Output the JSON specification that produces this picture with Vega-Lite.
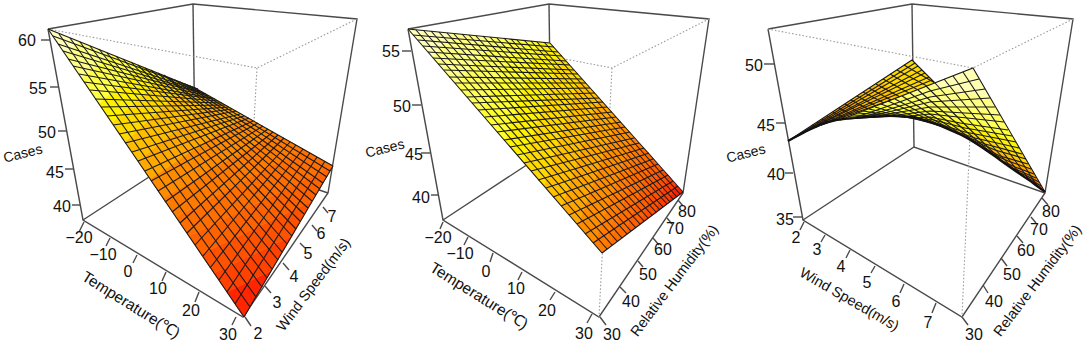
{"$schema":"https://vega.github.io/schema/vega-lite/v6.json","width":1084,"height":346,"autosize":{"type":"fit","contains":"padding"},"padding":0,"background":"white","config":{"view":{"stroke":null}},
"encoding":{"x":{"field":"x","type":"quantitative","scale":{"domain":[0,1084]},"axis":null},"y":{"field":"y","type":"quantitative","scale":{"domain":[346,0]},"axis":null}},
"resolve":{"scale":{"fill":"independent","stroke":"independent"}},
"layer":[
{"data":{"values":[
{"k":1,"x":[48,193,357,328,243,83,48],"y":[29,4,19,193,317,220,29]},{"k":2,"x":[193,195],"y":[4,147]},{"k":3,"x":[83,195,328],"y":[220,147,193]},
{"k":4,"x":[408,549,709,683,599,443,408],"y":[29,4,19,193,317,220,29]},{"k":5,"x":[549,551],"y":[4,149]},{"k":6,"x":[443,551,683],"y":[220,149,193]},
{"k":7,"x":[768,912,1073,1045,962,803,768],"y":[29,4,19,193,317,220,29]},{"k":8,"x":[912,914],"y":[4,147]},{"k":9,"x":[803,914,1045],"y":[220,147,193]},
{"k":10,"x":[41,50],"y":[40,40]},{"k":11,"x":[50,59],"y":[87,87]},{"k":12,"x":[58,67],"y":[131,131]},{"k":13,"x":[65,74],"y":[169,169]},{"k":14,"x":[72,80],"y":[205,205]},
{"k":15,"x":[84,79],"y":[222,232]},{"k":16,"x":[110,106],"y":[238,246]},{"k":17,"x":[137,133],"y":[255,263]},{"k":18,"x":[166,162],"y":[272,281]},{"k":19,"x":[199,195],"y":[292,302]},{"k":20,"x":[236,232],"y":[317,325]},
{"k":21,"x":[245,251],"y":[317,326]},{"k":22,"x":[265,271],"y":[286,293]},{"k":23,"x":[283,289],"y":[263,270]},{"k":24,"x":[300,305],"y":[243,248]},{"k":25,"x":[312,317],"y":[225,231]},{"k":26,"x":[323,328],"y":[207,213]},
{"k":27,"x":[402,411],"y":[51,51]},{"k":28,"x":[412,421],"y":[105,105]},{"k":29,"x":[421,430],"y":[153,153]},{"k":30,"x":[431,438],"y":[195,195]},
{"k":31,"x":[443,440],"y":[222,229]},{"k":32,"x":[468,464],"y":[237,245]},{"k":33,"x":[493,490],"y":[253,262]},{"k":34,"x":[522,518],"y":[272,280]},{"k":35,"x":[555,550],"y":[292,300]},{"k":36,"x":[592,587],"y":[314,323]},
{"k":37,"x":[600,606],"y":[317,325]},{"k":38,"x":[620,626],"y":[287,293]},{"k":39,"x":[638,643],"y":[261,267]},{"k":40,"x":[653,659],"y":[238,245]},{"k":41,"x":[667,672],"y":[218,224]},{"k":42,"x":[678,683],"y":[200,206]},
{"k":43,"x":[764,774],"y":[64,64]},{"k":44,"x":[776,785],"y":[123,123]},{"k":45,"x":[785,793],"y":[173,173]},{"k":46,"x":[793,802],"y":[217,217]},
{"k":47,"x":[804,800],"y":[222,230]},{"k":48,"x":[825,821],"y":[235,242]},{"k":49,"x":[850,846],"y":[250,258]},{"k":50,"x":[875,871],"y":[266,273]},{"k":51,"x":[904,900],"y":[284,293]},{"k":52,"x":[936,932],"y":[303,313]},
{"k":53,"x":[962,968],"y":[317,325]},{"k":54,"x":[983,988],"y":[285,293]},{"k":55,"x":[1001,1007],"y":[258,266]},{"k":56,"x":[1017,1023],"y":[236,243]},{"k":57,"x":[1031,1036],"y":[217,223]},{"k":58,"x":[1042,1048],"y":[198,205]}
]},"transform":[{"flatten":["x","y"]}],"mark":{"type":"line","order":false,"stroke":"#4a4a4a","strokeWidth":1.4},"encoding":{"detail":{"field":"k"}}},
{"data":{"values":[
{"k":1,"x":[48,257,357],"y":[29,68,19]},{"k":2,"x":[257,243],"y":[68,317]},
{"k":3,"x":[408,612,709],"y":[29,68,19]},{"k":4,"x":[612,599],"y":[68,317]},
{"k":5,"x":[768,973,1073],"y":[29,68,19]},{"k":6,"x":[973,962],"y":[68,317]}
]},"transform":[{"flatten":["x","y"]}],"mark":{"type":"line","order":false,"stroke":"#999999","strokeWidth":1.1,"strokeDash":[1.5,2]},"encoding":{"detail":{"field":"k"}}},
{"data":{"values":[
{"z":60,"x":[48,65,79],"y":[29,54,41]},{"z":58,"x":[65,82,110,79],"y":[54,79,54,41]},{"z":56,"x":[82,99,141,110],"y":[79,104,66,54]},{"z":54.2,"x":[99,112,164,141],"y":[104,123,76,66]},{"z":52.8,"x":[112,125,187,164],"y":[123,142,85,76]},{"z":51.2,"x":[125,138,215,195,187],"y":[142,161,99,88,85]},{"z":49.8,"x":[138,150,244,215],"y":[161,179,116,99]},{"z":48.2,"x":[150,163,274,244],"y":[179,198,133,116]},{"z":46.8,"x":[163,176,303,274],"y":[198,217,149,133]},{"z":45.2,"x":[176,189,333,303],"y":[217,236,166,149]},{"z":43.8,"x":[189,201,312,333],"y":[236,254,201,166]},{"z":42.2,"x":[201,214,292,312],"y":[254,273,236,201]},{"z":40.8,"x":[214,227,271,292],"y":[273,292,271,236]},{"z":39,"x":[227,244,271],"y":[292,317,271]}
]},"transform":[{"flatten":["x","y"]}],"mark":{"type":"line","order":false,"strokeWidth":0.7},"encoding":{"detail":{"field":"z"},"fill":{"field":"z","type":"quantitative","legend":null,"scale":{"domain":[38,47.5,55,61],"range":["#ff0000","#ff8000","#ffff00","#ffffd0"]}},"stroke":{"field":"z","type":"quantitative","legend":null,"scale":{"domain":[38,47.5,55,61],"range":["#ff0000","#ff8000","#ffff00","#ffffd0"]}}}},
{"data":{"values":[
{"z":56,"x":[408,432,452],"y":[29,57,33]},{"z":54,"x":[432,456,495,452],"y":[57,85,38,33]},{"z":52.5,"x":[456,481,517,495],"y":[85,113,40,38]},{"z":51.5,"x":[481,505,539,517],"y":[113,141,42,40]},{"z":50.5,"x":[505,524,560,550,539],"y":[141,163,54,43,42]},{"z":49.5,"x":[524,544,580,560],"y":[163,186,77,54]},{"z":48.5,"x":[544,562,599,580],"y":[186,206,98,77]},{"z":47.5,"x":[562,578,617,599],"y":[206,225,118,98]},{"z":46.5,"x":[578,594,633,617],"y":[225,244,136,118]},{"z":45.7,"x":[594,602,637,633],"y":[244,253,141,136]},{"z":45.2,"x":[602,609,642,637],"y":[253,247,146,141]},{"z":44.5,"x":[609,624,652,642],"y":[247,236,157,146]},{"z":43.5,"x":[624,639,660,652],"y":[236,225,167,157]},{"z":42.5,"x":[639,654,668,660],"y":[225,214,175,167]},{"z":41.5,"x":[654,668,675,668],"y":[214,203,184,175]},{"z":40.5,"x":[668,683,675],"y":[203,192,184]}
]},"transform":[{"flatten":["x","y"]}],"mark":{"type":"line","order":false,"strokeWidth":0.7},"encoding":{"detail":{"field":"z"},"fill":{"field":"z","type":"quantitative","legend":null,"scale":{"domain":[40,46,51,57],"range":["#ff0000","#ff8000","#ffff00","#ffffd0"]}},"stroke":{"field":"z","type":"quantitative","legend":null,"scale":{"domain":[40,46,51,57],"range":["#ff0000","#ff8000","#ffff00","#ffffd0"]}}}},
{"data":{"values":[
{"z":45.5,"x":[912,936,900,880],"y":[60,84,97,81]},{"z":44.5,"x":[880,900,870,850],"y":[81,97,109,100]},{"z":43.5,"x":[850,870,840,837,825],"y":[100,109,120,120,117]},{"z":42.5,"x":[825,837,820,803,788],"y":[117,120,125,133,141]}
]},"transform":[{"flatten":["x","y"]}],"mark":{"type":"line","order":false,"strokeWidth":0.7},"encoding":{"detail":{"field":"z"},"fill":{"field":"z","type":"quantitative","legend":null,"scale":{"domain":[38,42,47,52],"range":["#ff0000","#ff8000","#ffff00","#ffffd0"]}},"stroke":{"field":"z","type":"quantitative","legend":null,"scale":{"domain":[38,42,47,52],"range":["#ff0000","#ff8000","#ffff00","#ffffd0"]}}}},
{"data":{"values":[
{"k":1,"x":[788,912,936],"y":[141,60,84]},
{"k":2,"x":[904,935],"y":[65,83]},{"k":3,"x":[897,927],"y":[70,86]},{"k":4,"x":[890,918],"y":[74,90]},{"k":5,"x":[883,909],"y":[79,93]},{"k":6,"x":[876,900],"y":[84,97]},{"k":7,"x":[869,891],"y":[88,100]},{"k":8,"x":[863,884],"y":[92,103]},{"k":9,"x":[857,876],"y":[96,106]},{"k":10,"x":[851,868],"y":[100,109]},{"k":11,"x":[845,860],"y":[104,113]},{"k":12,"x":[839,853],"y":[108,115]},{"k":13,"x":[833,845],"y":[112,118]},{"k":14,"x":[827,835],"y":[116,120]},{"k":15,"x":[822,828],"y":[119,122]},{"k":16,"x":[817,822],"y":[122,124]},{"k":17,"x":[812,817],"y":[125,127]},{"k":18,"x":[807,810],"y":[129,130]},{"k":19,"x":[802,804],"y":[132,133]},
{"k":20,"x":[915,792],"y":[63,139]},{"k":21,"x":[918,796],"y":[66,137]},{"k":22,"x":[922,801],"y":[70,134]},{"k":23,"x":[925,806],"y":[73,131]},{"k":24,"x":[929,811],"y":[77,129]},{"k":25,"x":[932,816],"y":[80,127]},{"k":26,"x":[936,821],"y":[84,125]}
]},"transform":[{"flatten":["x","y"]}],"mark":{"type":"line","order":false,"stroke":"#1a1a1a","strokeWidth":1.1},"encoding":{"detail":{"field":"k"}}},
{"data":{"values":[
{"z":51,"x":[973,930,990],"y":[68,85,98]},{"z":49.5,"x":[930,905,1000,990],"y":[85,95,115,98]},{"z":48.5,"x":[905,880,930,1008,1000],"y":[95,105,110,130,115]},{"z":47.5,"x":[880,850,900,960,1016,1008,930],"y":[105,116,112,122,142,130,110]},{"z":46.5,"x":[850,840,855,870,890,910,970,1022,1016,960,900],"y":[116,120,118,117,116.5,117,133,154,142,122,112]},{"z":45.5,"x":[910,933,940,990,1028,1022,970],"y":[117,123,126,147,164,154,133]},{"z":44.5,"x":[940,950,967,1000,1032,1028,990],"y":[126,130,138,154,170,164,147]},{"z":43.5,"x":[967,983,992,1037,1032,1000],"y":[138,148,155,179,170,154]},{"z":42.5,"x":[992,1000,1010,1039,1037],"y":[155,160,167,183,179]},{"z":41.5,"x":[1010,1017,1022,1041,1039],"y":[167,172,176,186,183]},{"z":40.2,"x":[1022,1033,1034,1043,1041],"y":[176,183,184,190,186]},{"z":38.7,"x":[1034,1045,1043],"y":[184,192,190]}
]},"transform":[{"flatten":["x","y"]}],"mark":{"type":"line","order":false,"strokeWidth":0.7},"encoding":{"detail":{"field":"z"},"fill":{"field":"z","type":"quantitative","legend":null,"scale":{"domain":[38,42,47,52],"range":["#ff0000","#ff8000","#ffff00","#ffffd0"]}},"stroke":{"field":"z","type":"quantitative","legend":null,"scale":{"domain":[38,42,47,52],"range":["#ff0000","#ff8000","#ffff00","#ffffd0"]}}}},
{"data":{"values":[
{"k":100,"x":[48,195],"y":[29,88]},{"k":101,"x":[53,198],"y":[36,89]},{"k":102,"x":[58,200],"y":[44,91]},{"k":103,"x":[63,203],"y":[51,93]},{"k":104,"x":[68,206],"y":[59,94]},{"k":105,"x":[73,209],"y":[66,96]},{"k":106,"x":[79,212],"y":[74,98]},{"k":107,"x":[84,215],"y":[82,99]},{"k":108,"x":[90,218],"y":[90,101]},{"k":109,"x":[95,222],"y":[99,103]},{"k":110,"x":[101,225],"y":[107,105]},{"k":111,"x":[107,229],"y":[116,107]},{"k":112,"x":[113,232],"y":[125,109]},{"k":113,"x":[119,236],"y":[134,111]},{"k":114,"x":[125,240],"y":[143,114]},{"k":115,"x":[132,244],"y":[152,116]},{"k":116,"x":[138,249],"y":[161,118]},{"k":117,"x":[145,253],"y":[171,121]},{"k":118,"x":[151,258],"y":[181,123]},{"k":119,"x":[158,263],"y":[191,126]},{"k":120,"x":[165,268],"y":[202,129]},{"k":121,"x":[172,273],"y":[212,132]},{"k":122,"x":[180,278],"y":[223,135]},{"k":123,"x":[187,284],"y":[233,138]},{"k":124,"x":[195,290],"y":[245,142]},{"k":125,"x":[203,296],"y":[256,145]},{"k":126,"x":[210,303],"y":[268,149]},{"k":127,"x":[219,310],"y":[280,153]},{"k":128,"x":[227,317],"y":[292,157]},{"k":129,"x":[235,325],"y":[304,161]},{"k":130,"x":[244,333],"y":[317,166]},
{"k":140,"x":[48,244],"y":[29,317]},{"k":141,"x":[59,250],"y":[34,307]},{"k":142,"x":[70,256],"y":[38,297]},{"k":143,"x":[80,262],"y":[42,287]},{"k":144,"x":[90,267],"y":[46,278]},{"k":145,"x":[99,272],"y":[49,269]},{"k":146,"x":[107,278],"y":[53,260]},{"k":147,"x":[116,282],"y":[56,252]},{"k":148,"x":[123,287],"y":[59,244]},{"k":149,"x":[131,292],"y":[62,236]},{"k":150,"x":[138,296],"y":[65,229]},{"k":151,"x":[145,300],"y":[68,221]},{"k":152,"x":[151,304],"y":[70,214]},{"k":153,"x":[158,308],"y":[73,208]},{"k":154,"x":[164,312],"y":[75,201]},{"k":155,"x":[169,316],"y":[78,195]},{"k":156,"x":[175,320],"y":[80,189]},{"k":157,"x":[180,323],"y":[82,183]},{"k":158,"x":[185,327],"y":[84,177]},{"k":159,"x":[190,330],"y":[86,171]},{"k":160,"x":[195,333],"y":[88,166]},
{"k":200,"x":[408,550],"y":[29,43]},{"k":201,"x":[413,554],"y":[35,47]},{"k":202,"x":[418,558],"y":[40,52]},{"k":203,"x":[423,562],"y":[46,56]},{"k":204,"x":[428,566],"y":[52,61]},{"k":205,"x":[433,570],"y":[58,65]},{"k":206,"x":[438,574],"y":[64,70]},{"k":207,"x":[444,578],"y":[70,74]},{"k":208,"x":[449,582],"y":[77,79]},{"k":209,"x":[455,586],"y":[83,83]},{"k":210,"x":[461,590],"y":[90,88]},{"k":211,"x":[467,595],"y":[97,93]},{"k":212,"x":[472,599],"y":[103,98]},{"k":213,"x":[478,603],"y":[110,102]},{"k":214,"x":[485,607],"y":[117,107]},{"k":215,"x":[491,612],"y":[125,112]},{"k":216,"x":[497,616],"y":[132,117]},{"k":217,"x":[504,621],"y":[140,122]},{"k":218,"x":[510,625],"y":[147,127]},{"k":219,"x":[517,630],"y":[155,132]},{"k":220,"x":[524,634],"y":[163,138]},{"k":221,"x":[531,639],"y":[171,143]},{"k":222,"x":[538,644],"y":[180,148]},{"k":223,"x":[546,649],"y":[188,153]},{"k":224,"x":[553,653],"y":[197,159]},{"k":225,"x":[561,658],"y":[206,164]},{"k":226,"x":[569,663],"y":[215,170]},{"k":227,"x":[577,668],"y":[224,175]},{"k":228,"x":[585,673],"y":[234,181]},{"k":229,"x":[593,678],"y":[243,186]},{"k":230,"x":[602,683],"y":[253,192]},
{"k":240,"x":[408,602],"y":[29,253]},{"k":241,"x":[416,607],"y":[30,249]},{"k":242,"x":[424,612],"y":[31,245]},{"k":243,"x":[431,617],"y":[31,241]},{"k":244,"x":[439,622],"y":[32,238]},{"k":245,"x":[447,627],"y":[33,234]},{"k":246,"x":[454,631],"y":[34,231]},{"k":247,"x":[462,636],"y":[34,228]},{"k":248,"x":[469,640],"y":[35,224]},{"k":249,"x":[476,644],"y":[36,221]},{"k":250,"x":[483,648],"y":[36,218]},{"k":251,"x":[490,652],"y":[37,215]},{"k":252,"x":[497,656],"y":[38,212]},{"k":253,"x":[504,660],"y":[38,210]},{"k":254,"x":[511,663],"y":[39,207]},{"k":255,"x":[517,667],"y":[40,204]},{"k":256,"x":[524,670],"y":[40,202]},{"k":257,"x":[531,673],"y":[41,199]},{"k":258,"x":[537,677],"y":[42,197]},{"k":259,"x":[544,680],"y":[42,194]},{"k":260,"x":[550,683],"y":[43,192]},
{"k":300,"x":[840,973,1045],"y":[120,68,192]},
{"k":301,"x":[979,930,880,855],"y":[79,91,109,117.5]},{"k":302,"x":[985,930,880,862],"y":[89,97,112,117]},{"k":303,"x":[990,930,880,868],"y":[98,102,114,117]},{"k":304,"x":[995,930,880,875],"y":[107,107,115.5,117]},{"k":305,"x":[1000,930,885],"y":[115,111,116.5]},{"k":306,"x":[1004,930,905],"y":[122,114,116.5]},{"k":307,"x":[1008,960,930,915],"y":[130,123,117,118]},{"k":308,"x":[1012,965,930,923],"y":[136,128,119,121]},{"k":309,"x":[1016,965,935],"y":[142,132,123]},{"k":310,"x":[1019,975,945],"y":[148,138,128]},{"k":311,"x":[1022,985,957],"y":[154,144,133]},{"k":312,"x":[1026,995,968],"y":[159,150,138.5]},{"k":313,"x":[1028,1000,978],"y":[164,156,145]},{"k":314,"x":[1031,1008,988],"y":[169,161,152]},{"k":315,"x":[1034,1015,998],"y":[174,167,159]},{"k":316,"x":[1036,1022,1008],"y":[178,172,166]},{"k":317,"x":[1039,1027,1018],"y":[182,176,172]},{"k":318,"x":[1041,1033,1026],"y":[186,181,177]},{"k":319,"x":[1043,1037,1034],"y":[190,186,184]},
{"k":321,"x":[963,1038],"y":[72,187]},{"k":322,"x":[953,1030],"y":[76,181]},{"k":323,"x":[944,1022],"y":[79,176]},{"k":324,"x":[935,1014],"y":[83,170]},{"k":325,"x":[926,1005],"y":[86,164]},{"k":326,"x":[918,996],"y":[90,157]},{"k":327,"x":[910,987],"y":[93,151]},{"k":328,"x":[902,978],"y":[96,145]},{"k":329,"x":[895,969],"y":[99,139]},{"k":330,"x":[888,960],"y":[101,134]},{"k":331,"x":[881,951],"y":[104,130]},{"k":332,"x":[875,942],"y":[107,126.5]},{"k":333,"x":[869,933],"y":[109,123]},{"k":334,"x":[863,924],"y":[111,120]},{"k":335,"x":[858,915],"y":[113,118]},{"k":336,"x":[853,905],"y":[115,117]},{"k":337,"x":[848,895],"y":[117,116.5]},{"k":338,"x":[844,885],"y":[119,116.5]}
]},"transform":[{"flatten":["x","y"]}],"mark":{"type":"line","order":false,"stroke":"#1a1a1a","strokeWidth":1.1},"encoding":{"detail":{"field":"k"}}},
{"data":{"values":[{"k":1,"x":[788,803,820,837,855,870,890,913,933,950,967,983,1000,1017,1033,1045],"y":[141,133,125,120,118,117,116,117,123,130,138,148,160,172,183,192]}]},"transform":[{"flatten":["x","y"]}],"mark":{"type":"line","order":false,"interpolate":"monotone","stroke":"#111111","strokeWidth":2.2},"encoding":{"detail":{"field":"k"}}},
{"data":{"values":[
{"t":"60","x":27,"y":41},{"t":"55","x":38,"y":89},{"t":"50","x":47,"y":133},{"t":"45","x":55,"y":173},{"t":"40","x":62,"y":207},
{"t":"−20","x":79,"y":238},{"t":"−10","x":103,"y":255},{"t":"0","x":128,"y":272},{"t":"10","x":158,"y":289},{"t":"20","x":191,"y":311},{"t":"30","x":228,"y":335},
{"t":"2","x":258,"y":334},{"t":"3","x":277,"y":303},{"t":"4","x":294,"y":277},{"t":"5","x":308,"y":254},{"t":"6","x":321,"y":234},{"t":"7","x":332,"y":217},
{"t":"55","x":391,"y":52},{"t":"50","x":402,"y":107},{"t":"45","x":414,"y":155},{"t":"40","x":421,"y":198},
{"t":"−20","x":438,"y":238},{"t":"−10","x":460,"y":254},{"t":"0","x":486,"y":272},{"t":"10","x":516,"y":289},{"t":"20","x":547,"y":311},{"t":"30","x":584,"y":334},
{"t":"30","x":612,"y":335},{"t":"40","x":631,"y":302},{"t":"50","x":648,"y":275},{"t":"60","x":663,"y":250},{"t":"70","x":675,"y":229},{"t":"80","x":687,"y":212},
{"t":"50","x":754,"y":66},{"t":"45","x":766,"y":126},{"t":"40","x":776,"y":175},{"t":"35","x":785,"y":220},
{"t":"2","x":796,"y":238},{"t":"3","x":817,"y":250},{"t":"4","x":841,"y":267},{"t":"5","x":867,"y":283},{"t":"6","x":896,"y":302},{"t":"7","x":928,"y":323},
{"t":"30","x":974,"y":335},{"t":"40","x":994,"y":302},{"t":"50","x":1012,"y":275},{"t":"60","x":1026,"y":251},{"t":"70","x":1039,"y":230},{"t":"80","x":1051,"y":212}
]},"mark":{"type":"text","font":"Liberation Sans","fontSize":16,"fill":"#111111","align":"center","baseline":"middle"},"encoding":{"text":{"field":"t"}}},
{"data":{"values":[{"t":"Cases","x":23,"y":154},{"t":"Cases","x":385,"y":149},{"t":"Cases","x":746,"y":154}]},"mark":{"type":"text","font":"Liberation Sans","fontSize":14,"fill":"#111111","align":"center","baseline":"middle","angle":346},"encoding":{"text":{"field":"t"}}},
{"data":{"values":[{"t":"Temperature(℃)","x":131,"y":305},{"t":"Temperature(℃)","x":479,"y":296}]},"mark":{"type":"text","font":"Liberation Sans","fontSize":15.5,"fill":"#111111","align":"center","baseline":"middle","angle":32},"encoding":{"text":{"field":"t"}}},
{"data":{"values":[{"t":"Wind Speed(m/s)","x":849,"y":300}]},"mark":{"type":"text","font":"Liberation Sans","fontSize":14.5,"fill":"#111111","align":"center","baseline":"middle","angle":30},"encoding":{"text":{"field":"t"}}},
{"data":{"values":[{"t":"Wind Speed(m/s)","x":314,"y":285},{"t":"Relative Humidity(%)","x":675,"y":281},{"t":"Relative Humidity(%)","x":1038,"y":281}]},"mark":{"type":"text","font":"Liberation Sans","fontSize":14.5,"fill":"#111111","align":"center","baseline":"middle","angle":307},"encoding":{"text":{"field":"t"}}}
]}
